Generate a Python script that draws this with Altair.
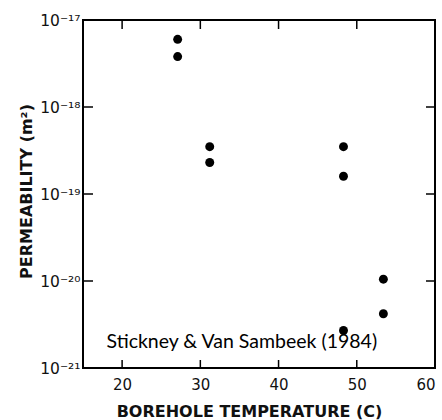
import math
import altair as alt
import pandas as pd

# data
temps = [27.1, 27.1, 31.2, 31.2, 48.3, 48.3, 53.4, 53.4, 48.3]
perms = [6.0e-18, 3.8e-18, 3.5e-19, 2.3e-19, 3.5e-19, 1.6e-19, 1.05e-20, 4.2e-21, 2.7e-21]

x_ticks = [20, 30, 40, 50]
x_labels = [20, 30, 40, 50, 60]
y_ticks = [1e-18, 1e-19, 1e-20]
y_label_values = [1e-21, 1e-20, 1e-19, 1e-18, 1e-17]
y_label_texts = ["10⁻²¹", "10⁻²⁰", "10⁻¹⁹", "10⁻¹⁸", "10⁻¹⁷"]

note_text = ["Stickney & Van Sambeek (1984)"]
note_x = [35.3]
note_y = [2.0e-21]

W, H = 352, 348
FONT = "DejaVu Sans"

df = pd.DataFrame({"T": temps, "k": perms})
xt = pd.DataFrame({"T": x_ticks})
yt = pd.DataFrame({"k": y_ticks})
note = pd.DataFrame({"T": note_x, "k": note_y, "txt": note_text})

# label expression built from the label lists
parts = []
for v, t in zip(y_label_values, y_label_texts):
    parts.append(f"abs(log(datum.value)/log(10) - ({round(math.log10(v))})) < 0.01 ? '{t}'")
expr = " : ".join(parts) + " : ''"

xscale = alt.Scale(domain=[15, 60], nice=False, zero=False)
yscale = alt.Scale(type="log", domain=[1e-21, 1e-17], nice=False)

xaxis = alt.Axis(values=x_labels, ticks=False, domain=False, grid=False,
                 labelFlush=True, labelOverlap=False,
                 labelFont=FONT, labelFontSize=15, labelColor="#111", labelPadding=9,
                 title="BOREHOLE TEMPERATURE (C)", titleFont=FONT, titleFontSize=16,
                 titleFontWeight="bold", titleColor="#111", titleX=166, titleY=43,
                 titleBaseline="middle", titleAlign="center")
yaxis = alt.Axis(values=y_label_values, labelExpr=expr, ticks=False, domain=False, grid=False,
                 labelFlush=False, labelOverlap=False,
                 labelFont=FONT, labelFontSize=15.5, labelColor="#111", labelPadding=3,
                 title="PERMEABILITY (m²)", titleFont=FONT, titleFontSize=16,
                 titleFontWeight="bold", titleColor="#111", titleX=-57, titleY=171,
                 titleAngle=270, titleBaseline="middle", titleAlign="center")

points = alt.Chart(df).mark_circle(size=80, color="black", opacity=1).encode(
    x=alt.X("T:Q", scale=xscale, axis=xaxis),
    y=alt.Y("k:Q", scale=yscale, axis=yaxis),
)

tick_top = alt.Chart(xt).mark_rule(color="black", strokeWidth=1.5).encode(
    x="T:Q", y=alt.value(0), y2=alt.value(9))
tick_bot = alt.Chart(xt).mark_rule(color="black", strokeWidth=1.5).encode(
    x="T:Q", y=alt.value(H), y2=alt.value(H - 8))
tick_left = alt.Chart(yt).mark_rule(color="black", strokeWidth=1.5).encode(
    y="k:Q", x=alt.value(0), x2=alt.value(10))
tick_right = alt.Chart(yt).mark_rule(color="black", strokeWidth=1.5).encode(
    y="k:Q", x=alt.value(W), x2=alt.value(W - 9))

label = alt.Chart(note).mark_text(font="Lato", fontSize=19.5, color="black",
                                  align="center", baseline="middle").encode(
    x="T:Q", y="k:Q", text="txt:N")

chart = alt.layer(points, tick_top, tick_bot, tick_left, tick_right, label).properties(
    width=W, height=H,
    autosize=alt.AutoSizeParams(type="none"),
    padding={"left": 83, "top": 20, "right": 7, "bottom": 52},
    background="white",
).configure_view(stroke="black", strokeWidth=2)

chart.save("out.html", embed_options={"renderer": "svg", "actions": False})
